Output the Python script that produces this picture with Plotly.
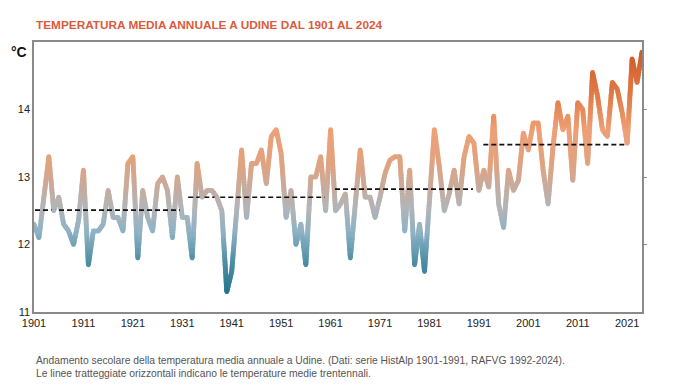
import math
import plotly.graph_objects as go

# ---- data ----
years = list(range(1901, 2025))
temps = [
    12.3, 12.1, 12.7, 13.3, 12.5, 12.7, 12.3, 12.2, 12.0, 12.35,   # 1901-1910
    13.1, 11.7, 12.2, 12.2, 12.3, 12.8, 12.4, 12.4, 12.2, 13.2,    # 1911-1920
    13.3, 11.8, 12.8, 12.4, 12.2, 12.9, 13.0, 12.8, 12.1, 13.0,    # 1921-1930
    12.4, 12.4, 11.8, 13.2, 12.7, 12.8, 12.8, 12.7, 12.5, 11.3,    # 1931-1940
    11.6, 12.5, 13.4, 12.4, 13.2, 13.2, 13.4, 12.9, 13.6, 13.7,    # 1941-1950
    13.35, 12.4, 12.8, 12.0, 12.3, 11.7, 13.0, 13.0, 13.3, 12.5,   # 1951-1960
    13.7, 12.5, 12.6, 12.75, 11.8, 12.6, 13.4, 12.7, 12.7, 12.4,   # 1961-1970
    12.7, 13.05, 13.25, 13.3, 13.3, 12.2, 13.1, 11.7, 12.3, 11.6,  # 1971-1980
    12.65, 13.7, 13.15, 12.5, 12.75, 13.1, 12.6, 13.3, 13.6, 13.5, # 1981-1990
    12.8, 13.1, 12.85, 13.9, 12.6, 12.25, 13.1, 12.8, 12.95, 13.65,# 1991-2000
    13.4, 13.8, 13.8, 13.1, 12.6, 13.45, 14.1, 13.7, 13.9, 12.95,  # 2001-2010
    14.1, 14.0, 13.2, 14.55, 14.2, 13.7, 13.6, 14.4, 14.3, 13.95,  # 2011-2020
    13.5, 14.75, 14.4, 14.85,                                      # 2021-2024
]
period_start = [1901.2, 1932.2, 1961.9, 1991.9]
period_end = [1930.5, 1959.8, 1989.8, 2020.9]
period_mean = [12.51, 12.70, 12.82, 13.48]
x_ticks = list(range(1901, 2022, 10))
y_ticks = [11, 12, 13, 14]

title_text = "TEMPERATURA MEDIA ANNUALE A UDINE DAL 1901 AL 2024"
caption_text = ("Andamento secolare della temperatura media annuale a Udine. "
                "(Dati: serie HistAlp 1901-1991, RAFVG 1992-2024).<br>"
                "Le linee tratteggiate orizzontali indicano le temperature medie trentennali.")

# ---- vertical colour gradient (colour depends on temperature) ----
stops = [
    (11.3, (36, 116, 138)),
    (11.8, (84, 146, 168)),
    (12.2, (143, 178, 197)),
    (12.55, (178, 181, 184)),
    (12.85, (198, 172, 158)),
    (13.2, (224, 163, 128)),
    (13.7, (238, 160, 118)),
    (14.2, (225, 124, 72)),
    (14.85, (208, 92, 42)),
]


def colour(v):
    if v <= stops[0][0]:
        c = stops[0][1]
    elif v >= stops[-1][0]:
        c = stops[-1][1]
    else:
        for (a, ca), (b, cb) in zip(stops[:-1], stops[1:]):
            if a <= v <= b:
                t = (v - a) / (b - a)
                c = tuple(ca[i] + (cb[i] - ca[i]) * t for i in range(3))
                break
    return "rgb(%d,%d,%d)" % tuple(int(round(x)) for x in c)


fig = go.Figure()

# Split each year-to-year segment into short pieces for rendering the gradient;
# pieces overlap slightly to avoid anti-aliasing seams.
bin_w = 0.04
ext = 0.35
bins = {}
for i in range(len(years) - 1):
    x0, x1 = years[i], years[i + 1]
    y0, y1 = temps[i], temps[i + 1]
    n = max(1, int(math.ceil(abs(y1 - y0) / bin_w)))
    for k in range(n):
        ta = max(0.0, (k - ext) / n)
        tb = min(1.0, (k + 1 + ext) / n)
        xa, xb = x0 + (x1 - x0) * ta, x0 + (x1 - x0) * tb
        ya, yb = y0 + (y1 - y0) * ta, y0 + (y1 - y0) * tb
        ym = y0 + (y1 - y0) * (k + 0.5) / n
        key = round(ym / bin_w)
        bx, by = bins.setdefault(key, ([], []))
        bx += [xa, xb, None]
        by += [ya, yb, None]

LW = 4.8
for key in sorted(bins):
    bx, by = bins[key]
    fig.add_trace(go.Scatter(
        x=bx, y=by, mode="lines",
        line=dict(color=colour(key * bin_w), width=LW),
        hoverinfo="skip", showlegend=False,
    ))

# rounded joints at each year
fig.add_trace(go.Scatter(
    x=years, y=temps, mode="markers",
    marker=dict(size=LW, color=[colour(v) for v in temps], line=dict(width=0)),
    showlegend=False, yaxis="y2",
))

# 30-year means (dashed)
for s, e, m in zip(period_start, period_end, period_mean):
    fig.add_trace(go.Scatter(
        x=[s, e], y=[m, m], mode="lines",
        line=dict(color="#111111", width=1.6, dash="5px,3px"),
        showlegend=False, hoverinfo="skip",
    ))

# the page body adds an 8px margin on the left/top, so the figure is 8px smaller
fig.update_layout(
    width=677, height=380,
    margin=dict(l=26, r=43, t=34, b=76, autoexpand=False),
    paper_bgcolor="white", plot_bgcolor="white",
    font=dict(family="Liberation Sans, Arial, sans-serif", size=11, color="#333333"),
    xaxis=dict(
        range=[1901, 2024], tickvals=x_ticks, ticktext=[str(t) for t in x_ticks],
        showgrid=False, zeroline=False, showline=True, mirror=True,
        linecolor="#8a8a8a", linewidth=1.5, ticks="", automargin=False,
        tickfont=dict(size=11, color="#222222"),
    ),
    yaxis=dict(
        range=[11, 15], tickvals=y_ticks, ticktext=[str(t) for t in y_ticks],
        showgrid=False, zeroline=False, showline=True, mirror=True,
        linecolor="#8a8a8a", linewidth=1.5, ticks="", automargin=False,
        tickfont=dict(size=11, color="#222222"),
    ),
    yaxis2=dict(
        range=[11, 15], overlaying="y", side="right", tickvals=[12, 13, 14],
        showticklabels=False, ticks="outside", ticklen=4, tickcolor="#8a8a8a",
        tickwidth=1, showgrid=False, zeroline=False, showline=False, automargin=False,
    ),
    annotations=[
        dict(text="<b>" + title_text + "</b>", xref="paper", yref="paper",
             x=0, y=1.063, xanchor="left", yanchor="middle", showarrow=False,
             font=dict(family="Liberation Sans, Arial, sans-serif",
                       size=11.8, color="#dc5a3c")),
        dict(text="<b>°C</b>", xref="paper", yref="paper",
             x=-0.025, y=0.963, xanchor="center", yanchor="middle", showarrow=False,
             font=dict(family="Liberation Sans, Arial, sans-serif", size=14, color="#111111")),
        dict(text=caption_text, xref="paper", yref="paper",
             x=0, y=-0.15, xanchor="left", yanchor="top", align="left",
             showarrow=False,
             font=dict(family="Liberation Sans, Arial, sans-serif",
                       size=10.3, color="#555555")),
    ],
)

fig.write_html("out.html")
